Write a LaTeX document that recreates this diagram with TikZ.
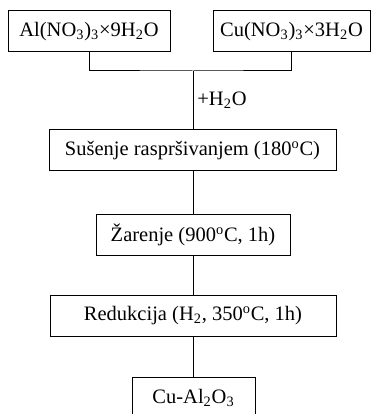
\documentclass[tikz,border=0pt]{standalone}
\usepackage{fontspec}
\setmainfont{Liberation Serif}
\tikzset{
  stepbox/.style={draw, line width=0.6pt, inner sep=0pt, minimum height=24.6pt, font=\fontsize{12.3}{14}\selectfont},
  link/.style={line width=0.6pt}
}
\begin{document}
\begin{tikzpicture}[x=0.6pt, y=-0.6pt]
    \useasboundingbox (0, 0) rectangle (371, 414);

    % Draw the starting salts
    \node[stepbox, minimum width=97.2pt] (al) at (89, 31.5) {Al(NO\textsubscript{3})\textsubscript{3}×9H\textsubscript{2}O};
    \node[stepbox, minimum width=94.2pt] (cu) at (291.5, 31.5) {Cu(NO\textsubscript{3})\textsubscript{3}×3H\textsubscript{2}O};
    \coordinate (join) at (193, 71);

    % Draw the process steps
    \node[stepbox, minimum width=172.2pt] (dry) at (192.5, 150.5) {Sušenje raspršivanjem (180\textsuperscript{o}C)};
    \node[stepbox, minimum width=116.4pt] (anneal) at (193, 235) {Žarenje (900\textsuperscript{o}C, 1h)};
    \node[stepbox, minimum width=171.6pt] (reduce) at (193, 315.5) {Redukcija (H\textsubscript{2}, 350\textsuperscript{o}C, 1h)};
    \node[stepbox, minimum width=73.8pt] (prod) at (193.5, 397.5) {Cu-Al\textsubscript{2}O\textsubscript{3}};

    % Draw the lines between the boxes
    \draw[link] (al.south) |- (join) -| (cu.south);
    \draw[link] (join) -- node[right, font=\fontsize{12.3}{14}\selectfont, xshift=-1pt] {+H\textsubscript{2}O} (join |- dry.north);
    \draw[link] (dry.south -| anneal.north) -- (anneal.north);
    \draw[link] (anneal.south) -- (reduce.north -| anneal.south);
    \draw[link] (reduce.south -| prod.north) -- (prod.north);
\end{tikzpicture}
\end{document}
